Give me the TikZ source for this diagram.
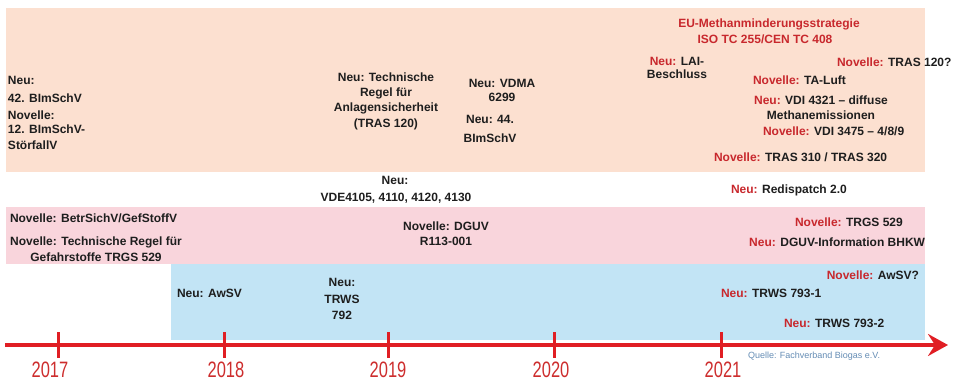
\documentclass[tikz,border=0pt]{standalone}
\usepackage{fontspec}
\setmainfont{Liberation Sans}
\usetikzlibrary{arrows.meta}
\definecolor{peach}{RGB}{252,224,208}
\definecolor{pinkband}{RGB}{249,213,220}
\definecolor{blueband}{RGB}{194,228,245}
\definecolor{axisred}{RGB}{224,30,36}
\definecolor{rtext}{RGB}{200,40,45}
\definecolor{yeartext}{RGB}{205,45,45}
\definecolor{txt}{RGB}{30,30,30}
\definecolor{quelletext}{RGB}{100,140,180}
\newcommand\redpre[1]{\textcolor{rtext}{#1}}
\newcommand\yearlabel[1]{\scalebox{1}[1.35]{\fontsize{16.5}{18}\selectfont #1}}
\begin{document}
\begin{tikzpicture}[x=1pt,y=-1pt,
  lbl/.style={inner sep=0pt, outer sep=0pt, font=\fontsize{12}{14}\selectfont\bfseries, text=txt, yshift=-4.3pt},
  lw/.style={lbl, anchor=base west},
  lc/.style={lbl, anchor=base},
  le/.style={lbl, anchor=base east},
  redlbl/.style={lc, text=rtext},
  year/.style={inner sep=0pt, outer sep=0pt, anchor=center, text=yeartext},
  quelle/.style={inner sep=0pt, outer sep=0pt, anchor=base west, font=\fontsize{9}{10}\selectfont, text=quelletext, yshift=-3.2pt},
  axisline/.style={draw=axisred, line width=4pt},
  tickline/.style={draw=axisred, line width=3pt}]
\useasboundingbox (0,0) rectangle (958,381);
% bands
\fill[peach] (6,8) rectangle (925,172);
\fill[pinkband] (6,207) rectangle (925,264);
\fill[blueband] (171,264) rectangle (925,340);
% axis
\coordinate (axL) at (5,345);
\coordinate (axR) at (948,345);
\draw[axisline, -{Stealth[length=20pt,width=22pt,inset=7pt]}] (axL) -- (axR);
\foreach \n/\x in {a/58,b/224,c/388,d/554,e/721}{
  \coordinate (t\n top) at (\x,332);
  \coordinate (t\n bot) at (\x,358);
  \draw[tickline] (t\n top) -- (t\n bot);
}
\node[year] (y2017) at (50,370) {\yearlabel{2017}};
\node[year] (y2018) at (226,370) {\yearlabel{2018}};
\node[year] (y2019) at (388,370) {\yearlabel{2019}};
\node[year] (y2020) at (551,370) {\yearlabel{2020}};
\node[year] (y2021) at (723,370) {\yearlabel{2021}};
\node[quelle] (quelle) at (748,355) {Quelle: Fachverband Biogas e.V.};
% peach band, left part
\node[lw] (l1) at (8,80) {Neu:};
\node[lw] (l2) at (8,98) {42. BImSchV};
\node[lw] (l3) at (8,115) {Novelle:};
\node[lw] (l4) at (8,129.5) {12. BImSchV-};
\node[lw] (l5) at (8,145) {StörfallV};
\node[lc] (t1) at (386,77) {Neu: Technische};
\node[lc] (t2) at (386,92) {Regel für};
\node[lc] (t3) at (386,107) {Anlagensicherheit};
\node[lc] (t4) at (386,123) {(TRAS 120)};
\node[lc] (v1) at (502,83) {Neu: VDMA};
\node[lc] (v2) at (502,97) {6299};
\node[lc] (b1) at (490,119) {Neu: 44.};
\node[lc] (b2) at (490,138) {BImSchV};
% peach band, right part
\node[redlbl] (eu) at (769,23) {EU-Methanminderungsstrategie};
\node[redlbl] (iso) at (765,39) {ISO TC 255/CEN TC 408};
\node[lc] (lai1) at (677,61) {\redpre{Neu:} LAI-};
\node[lc] (lai2) at (677,74) {Beschluss};
\node[lw] (tras120) at (837,62) {\redpre{Novelle:} TRAS 120?};
\node[lw] (taluft) at (753,80) {\redpre{Novelle:} TA-Luft};
\node[lc] (vdi1) at (821,100) {\redpre{Neu:} VDI 4321 – diffuse};
\node[lc] (vdi2) at (821,115) {Methanemissionen};
\node[lw] (vdi3) at (763,131) {\redpre{Novelle:} VDI 3475 – 4/8/9};
\node[lw] (tras310) at (714,157) {\redpre{Novelle:} TRAS 310 / TRAS 320};
% white strip
\node[lc] (vde1) at (395,180) {Neu:};
\node[lc] (vde2) at (396,197) {VDE4105, 4110, 4120, 4130};
\node[lw] (redis) at (731,189.5) {\redpre{Neu:} Redispatch 2.0};
% pink band
\node[lw] (p1) at (10,218) {Novelle: BetrSichV/GefStoffV};
\node[lc] (p2) at (96,241.5) {Novelle: Technische Regel für};
\node[lc] (p3) at (96,257) {Gefahrstoffe TRGS 529};
\node[lc] (dg1) at (446,226) {Novelle: DGUV};
\node[lc] (dg2) at (446,241) {R113-001};
\node[lw] (trgs) at (795,222) {\redpre{Novelle:} TRGS 529};
\node[le] (bhkw) at (925,242.5) {\redpre{Neu:} DGUV-Information BHKW};
% blue band
\node[lw] (awsv) at (177,293.5) {Neu: AwSV};
\node[lc] (w1) at (342,282) {Neu:};
\node[lc] (w2) at (342,299) {TRWS};
\node[lc] (w3) at (342,315) {792};
\node[le] (awsv2) at (919,275.5) {\redpre{Novelle:} AwSV?};
\node[lw] (trws1) at (721,293) {\redpre{Neu:} TRWS 793-1};
\node[lw] (trws2) at (784,323) {\redpre{Neu:} TRWS 793-2};
\end{tikzpicture}
\end{document}
